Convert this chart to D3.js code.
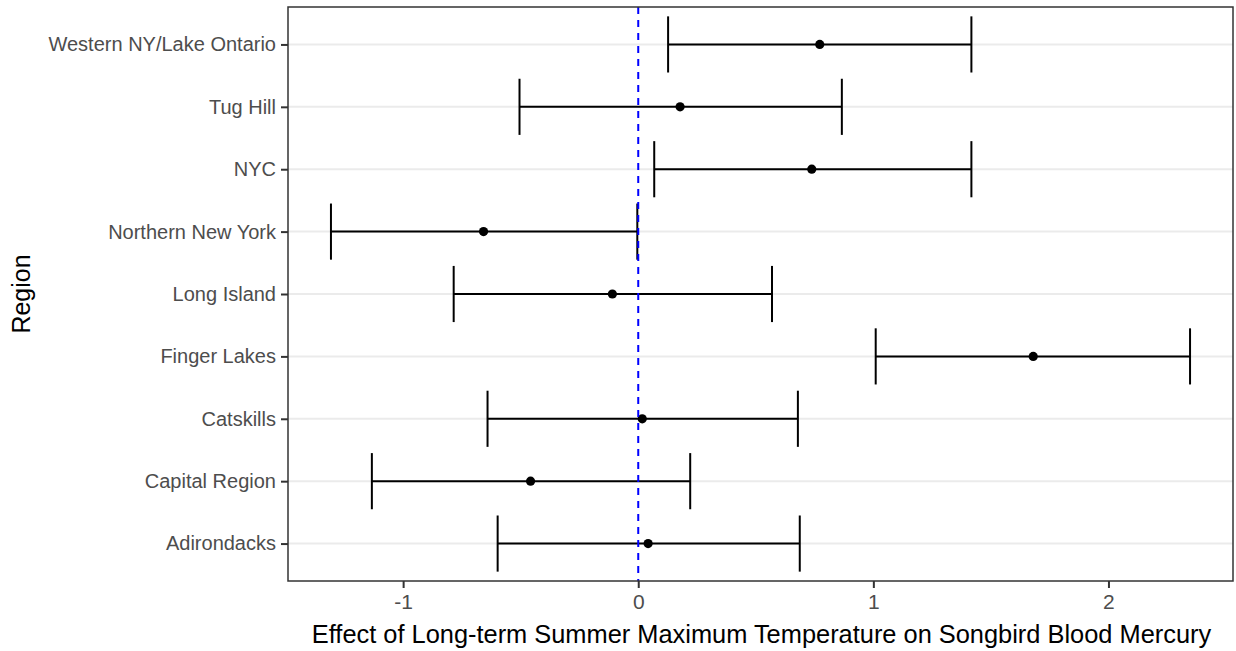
<!DOCTYPE html>
<html>
<head>
<meta charset="utf-8">
<script src="https://cdn.jsdelivr.net/npm/d3@7"></script>
<style>
  body { margin: 0; background: #fff; }
  text { font-family: "Liberation Sans", Arial, sans-serif; }
</style>
</head>
<body>
<div id="chart"></div>
<script>
// region order, bottom to top as in the plot
var regions = ["Adirondacks", "Capital Region", "Catskills", "Finger Lakes", "Long Island",
               "Northern New York", "NYC", "Tug Hill", "Western NY/Lake Ontario"];
var estimate = [0.042, -0.458, 0.017, 1.680, -0.110, -0.658, 0.738, 0.178, 0.772];
var lower    = [-0.598, -1.133, -0.641, 1.010, -0.785, -1.307, 0.068, -0.505, 0.127];
var upper    = [0.687, 0.221, 0.679, 2.347, 0.569, -0.004, 1.417, 0.866, 1.417];
var xTicks = [-1, 0, 1, 2];
var xTickLabels = ["-1", "0", "1", "2"];

var data = regions.map(function(r, i) {
  return {region: r, est: estimate[i], lo: lower[i], hi: upper[i]};
});

var W = 1236, H = 651;
var panel = {left: 288, right: 1233, top: 7, bottom: 581};

var svg = d3.select("#chart").append("svg")
  .attr("width", W).attr("height", H);

// ggplot-like 5% expansion
var mn = d3.min(lower), mx = d3.max(upper), pad = (mx - mn) * 0.05;
var x = d3.scaleLinear().domain([mn - pad, mx + pad]).range([panel.left, panel.right]);

// discrete axis, 0.6 unit expansion on each side
var y = d3.scaleLinear().domain([0.4, regions.length + 0.6]).range([panel.bottom, panel.top]);
var step = (panel.bottom - panel.top) / (regions.length + 0.2);

// horizontal grid
svg.append("g").selectAll("line").data(data).enter().append("line")
  .attr("x1", panel.left).attr("x2", panel.right)
  .attr("y1", function(d, i) { return y(i + 1); })
  .attr("y2", function(d, i) { return y(i + 1); })
  .attr("stroke", "#EBEBEB").attr("stroke-width", 2);

// error bars
var bars = svg.append("g").selectAll("g").data(data).enter().append("g");
bars.append("line")
  .attr("x1", function(d) { return x(d.lo); })
  .attr("x2", function(d) { return x(d.hi); })
  .attr("y1", function(d, i) { return y(i + 1); })
  .attr("y2", function(d, i) { return y(i + 1); })
  .attr("stroke", "#000").attr("stroke-width", 2);
["lo", "hi"].forEach(function(k) {
  bars.append("line")
    .attr("x1", function(d) { return x(d[k]); })
    .attr("x2", function(d) { return x(d[k]); })
    .attr("y1", function(d, i) { return y(i + 1) - step * 0.45; })
    .attr("y2", function(d, i) { return y(i + 1) + step * 0.45; })
    .attr("stroke", "#000").attr("stroke-width", 2);
});
bars.append("circle")
  .attr("cx", function(d) { return x(d.est); })
  .attr("cy", function(d, i) { return y(i + 1); })
  .attr("r", 4.6)
  .attr("fill", "#000");

// zero line
svg.append("line")
  .attr("x1", x(0)).attr("x2", x(0))
  .attr("y1", panel.top).attr("y2", panel.bottom)
  .attr("stroke", "#0000FF").attr("stroke-width", 2)
  .attr("stroke-dasharray", "7,6");

// panel border
svg.append("rect")
  .attr("x", panel.left).attr("y", panel.top)
  .attr("width", panel.right - panel.left).attr("height", panel.bottom - panel.top)
  .attr("fill", "none").attr("stroke", "#333333").attr("stroke-width", 1.5);

// x axis
var xAxis = svg.append("g")
  .attr("transform", "translate(0," + panel.bottom + ")")
  .call(d3.axisBottom(x).tickValues(xTicks).tickSize(7).tickPadding(6)
    .tickFormat(function(d, i) { return xTickLabels[i]; }));
xAxis.select(".domain").remove();
xAxis.selectAll("line").attr("stroke", "#333333").attr("stroke-width", 2);
xAxis.selectAll("text").attr("fill", "#4D4D4D").style("font-size", "21px")
  .style("font-family", "Liberation Sans, Arial, sans-serif");

// y axis
var yAxis = svg.append("g")
  .attr("transform", "translate(" + panel.left + ",0)")
  .call(d3.axisLeft(y).tickValues(d3.range(1, regions.length + 1)).tickSize(7).tickPadding(5)
    .tickFormat(function(d) { return regions[d - 1]; }));
yAxis.select(".domain").remove();
yAxis.selectAll("line").attr("stroke", "#333333").attr("stroke-width", 2);
yAxis.selectAll("text").attr("fill", "#4D4D4D").style("font-size", "20px")
  .style("font-family", "Liberation Sans, Arial, sans-serif");

// titles
svg.append("text")
  .attr("x", (panel.left + panel.right) / 2 + 1).attr("y", 643)
  .attr("text-anchor", "middle")
  .style("font-size", "25.4px").attr("fill", "#000")
  .text("Effect of Long-term Summer Maximum Temperature on Songbird Blood Mercury");

svg.append("text")
  .attr("transform", "translate(30," + ((panel.top + panel.bottom) / 2) + ") rotate(-90)")
  .attr("text-anchor", "middle")
  .style("font-size", "25px").attr("fill", "#000")
  .text("Region");
</script>
</body>
</html>
